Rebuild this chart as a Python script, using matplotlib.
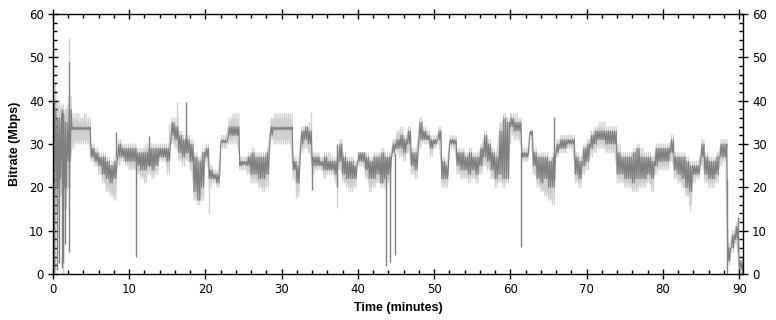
import numpy as np
import matplotlib
matplotlib.use("Agg")
import matplotlib.pyplot as plt
from matplotlib.ticker import MultipleLocator

# time axis, every half minute
t = np.arange(0, 91, 0.5)

# dark trace envelope (Mbps), low and high per half minute
dark_lo = [18, 20, 22, 20, 26, 33.3, 33.3, 33.3, 33.3, 33.3,
           27, 26, 25, 23, 22, 21, 22, 27, 27, 26,
           26, 26, 25, 24, 24, 25, 24, 25, 27, 27,
           26, 32, 31, 28, 27, 28, 26, 19, 17, 20,
           27, 22, 22, 21, 30.3, 30.3, 32, 32, 32, 25,
           25.3, 25, 23, 23, 22, 22, 23, 32, 33.3, 33.3,
           33.3, 33.3, 33.3, 24, 21, 30, 31, 30, 25, 25,
           25, 24, 24, 24, 23, 26, 23, 22, 22, 22,
           26, 26, 24, 22, 22, 23, 21, 22, 23, 28,
           29, 29, 28, 30, 25, 24, 31, 31, 31, 29,
           30, 31, 22, 22, 30, 30, 25, 24, 24, 23,
           24, 23, 25, 27, 26, 24, 22, 23, 22, 22,
           34, 33, 33, 27, 27, 32, 25, 22, 21, 22,
           20, 20, 28, 29, 29, 30, 30, 23, 22, 25,
           26, 29, 30, 31, 31, 30, 30, 30, 23, 23,
           22, 22, 21, 22, 22, 22, 23, 22, 25, 26,
           26, 26, 28, 24, 23, 22, 20, 19, 23, 23,
           27, 23, 22, 22, 23, 27, 27, 3, 6, 8,
           1, 0]
dark_hi = [38, 36, 37, 35, 38, 33.9, 33.9, 33.9, 33.9, 33.9,
           29, 28, 27, 27, 26, 25, 26, 30, 29, 29,
           29, 29, 28, 28, 28, 29, 29, 29, 29, 29,
           29, 35, 34, 32, 31, 31, 30, 27, 26, 28,
           29, 24, 23, 23, 30.9, 30.9, 34, 34, 34, 26,
           25.9, 27, 28, 27, 27, 27, 28, 34, 33.9, 33.9,
           33.9, 33.9, 33.9, 26, 25, 33, 34, 33, 27, 27,
           26, 27, 26, 26, 26, 30, 27, 26, 26, 25,
           28, 28, 27, 26, 27, 27, 28, 27, 27, 30,
           31, 32, 31, 33, 28, 28, 35, 33, 32, 31,
           31, 33, 26, 25, 31, 31, 28, 28, 27, 28,
           27, 27, 29, 32, 30, 28, 27, 33, 36, 35,
           36, 35, 35, 28, 28, 33, 28, 27, 27, 27,
           26, 27, 30, 31, 31, 31, 31, 27, 26, 29,
           30, 32, 33, 33, 33, 33, 33, 33, 28, 27,
           27, 27, 28, 29, 27, 27, 27, 26, 29, 29,
           29, 29, 31, 27, 27, 27, 26, 25, 25, 25,
           30, 27, 26, 26, 27, 30, 30, 6, 9, 11,
           3, 1]

# light trace envelope
light_lo = [12, 14, 18, 15, 20, 29, 30, 30, 30, 30,
            26, 25, 23, 21, 19, 18, 17, 25, 26, 25,
            24, 24, 23, 22, 21, 23, 22, 23, 26, 26,
            23, 30, 29, 26, 25, 26, 24, 17, 16, 17,
            26, 20, 21, 20, 29, 29, 30, 30, 30, 24,
            24, 23, 21, 21, 20, 19, 20, 31, 30, 30,
            30, 30, 30, 22, 18, 28, 29, 28, 23, 24,
            24, 22, 23, 23, 21, 24, 21, 20, 19, 20,
            25, 25, 22, 19, 20, 21, 20, 20, 21, 27,
            28, 27, 26, 28, 23, 22, 29, 30, 30, 27,
            29, 30, 20, 20, 29, 29, 23, 22, 22, 21,
            22, 21, 23, 25, 24, 22, 20, 21, 20, 21,
            32, 31, 31, 26, 26, 31, 23, 20, 19, 18,
            17, 16, 27, 28, 28, 29, 29, 21, 20, 23,
            24, 27, 28, 29, 29, 28, 28, 28, 21, 21,
            20, 20, 19, 19, 20, 20, 21, 19, 23, 24,
            24, 24, 26, 22, 21, 20, 18, 16, 21, 22,
            25, 21, 20, 20, 21, 25, 26, 2, 5, 7,
            0, 0]
light_hi = [42, 40, 39, 38, 41, 37, 37, 36, 37, 36,
            30, 29, 28, 28, 27, 26, 27, 31, 30, 30,
            30, 30, 29, 29, 30, 30, 30, 30, 30, 30,
            30, 36, 36, 33, 32, 32, 31, 28, 27, 29,
            30, 25, 24, 24, 32, 32, 36, 37, 37, 27,
            27, 28, 29, 28, 28, 28, 29, 36, 37, 37,
            37, 37, 37, 27, 26, 34, 34, 35, 28, 28,
            27, 28, 28, 27, 27, 31, 28, 27, 27, 26,
            28, 28, 28, 27, 28, 28, 29, 28, 28, 31,
            33, 34, 32, 34, 29, 29, 36, 34, 33, 32,
            32, 34, 27, 26, 32, 32, 29, 29, 28, 29,
            28, 28, 30, 33, 31, 29, 28, 35, 37, 36,
            37, 37, 36, 29, 29, 33, 29, 28, 28, 28,
            27, 28, 31, 32, 32, 32, 32, 28, 27, 30,
            31, 33, 34, 35, 35, 34, 34, 34, 30, 28,
            28, 28, 29, 30, 29, 28, 28, 27, 30, 30,
            30, 30, 32, 28, 28, 28, 27, 26, 26, 26,
            31, 28, 27, 27, 28, 31, 31, 7, 10, 12,
            4, 1]

# short spikes of the dark trace (time, low, high)
spike_t = [0.15, 0.5, 0.85, 1.2, 1.35, 1.6, 2.05, 8.3, 10.9, 12.6, 17.5,
           34.0, 37.3, 43.7, 44.2, 44.8, 61.4, 65.7, 88.4, 89.9]
spike_lo = [0.5, 1, 2.5, 1.5, 2.5, 7, 5, 27, 4, 25, 28,
            19.5, 20, 1.8, 2.8, 4.4, 6.3, 22, 0, 5]
spike_hi = [40, 36, 30, 38, 37, 30, 49, 32.8, 27, 31.8, 39.8,
            27, 30, 26, 27, 28, 28, 36.3, 22, 13.2]

# short spikes of the light trace
lspike_t = [0.3, 1.3, 2.1, 15.2, 16.2, 20.5, 31.9, 33.9, 37.3, 60.0, 83.5]
lspike_lo = [0, 0, 20, 28, 30, 13.8, 17.5, 30, 15.2, 30, 14.8]
lspike_hi = [44, 39, 54.5, 34.8, 39.8, 24, 25, 37.5, 25, 37.5, 25]

DARK = "#808080"
LIGHT = "#d0d0d0"


def zigzag(lo, hi):
    # swing low -> high twice inside every half-minute bin
    xs = np.ravel(np.column_stack([t, t + 0.125, t + 0.25, t + 0.375]))
    ys = np.ravel(np.column_stack([lo, hi, lo, hi]))
    return xs, ys


fig = plt.figure(figsize=(7.76, 3.2), dpi=100)
ax = fig.add_axes([53 / 776, 1 - 274 / 320, 690 / 776, 260 / 320])

lx, ly = zigzag(light_lo, light_hi)
ax.fill_between(t, np.array(light_lo) + 1, np.array(light_hi) - 1,
                color=LIGHT, lw=0, zorder=1)
ax.plot(lx, ly, color=LIGHT, lw=0.8, zorder=1)
ax.vlines(lspike_t, lspike_lo, lspike_hi, color=LIGHT, lw=1, zorder=1)

dx, dy = zigzag(dark_lo, dark_hi)
ax.plot(dx, dy, color=DARK, lw=0.8, zorder=2)
ax.vlines(spike_t, spike_lo, spike_hi, color=DARK, lw=1, zorder=2)

ax.set_xlim(0, 90.5)
ax.set_ylim(0, 60)
ax.xaxis.set_major_locator(MultipleLocator(10))
ax.xaxis.set_minor_locator(MultipleLocator(2))
ax.yaxis.set_major_locator(MultipleLocator(10))
ax.yaxis.set_minor_locator(MultipleLocator(2))
ax.tick_params(which="major", direction="inout", length=7, width=1,
               top=True, right=True, labelright=True, labelsize=8.5, pad=3)
ax.tick_params(which="minor", direction="in", length=3, width=1,
               top=True, right=True)
for lab in ax.get_xticklabels() + ax.get_yticklabels():
    lab.set_family("DejaVu Sans")
for s in ax.spines.values():
    s.set_linewidth(1)

ax.set_xlabel("Time (minutes)", family="Liberation Sans", fontweight="bold",
              fontsize=9, labelpad=4)
ax.set_ylabel("Bitrate (Mbps)", family="Liberation Sans", fontweight="bold",
              fontsize=9, labelpad=6)

fig.savefig("out.png", dpi=100)
